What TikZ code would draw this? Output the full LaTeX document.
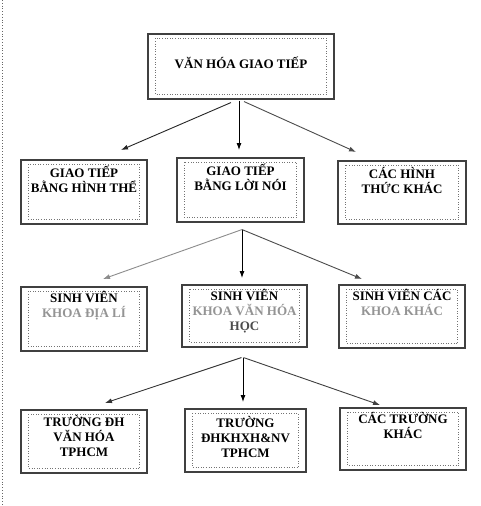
\documentclass[tikz,border=0pt]{standalone}
\usepackage{fontspec}
\setmainfont{Liberation Serif}
\usetikzlibrary{arrows.meta}
\newcommand\inrect[1]{\draw[inbox] ([shift={(8pt,-5pt)}]#1.north west) rectangle ([shift={(-8pt,5pt)}]#1.south east);}
\begin{document}
\begin{tikzpicture}[x=1pt,y=-1pt,
  box/.style={draw=black!75,line width=1.1pt,minimum width=126pt,minimum height=64pt,inner sep=0pt},
  inbox/.style={draw=black!55,dotted,line width=0.6pt},
  txt/.style={anchor=north,align=center,inner sep=0pt,font=\bfseries\fontsize{13}{15}\selectfont},
  arr/.style={line width=0.9pt,-{Latex[length=7pt,width=5pt]}},
  lt/.style={text=black!42},
]
\useasboundingbox (0,0) rectangle (480,506);
\fill[white] (0,0) rectangle (480,506);
\draw[black!60,dotted,line width=0.8pt] (2,0) -- (2,506);

% top
\node[box,minimum width=186pt,minimum height=65pt] (top) at (241,66.5) {};
\inrect{top}
\node[txt,anchor=base] (ttop) at ([yshift=-2pt]top.center) {VĂN HÓA GIAO TIẾP};

% level 2
\node[box] (b21) at (84,192) {};
\node[box,minimum width=127pt] (b22) at (240.5,190) {};
\node[box,minimum width=128pt,minimum height=63pt] (b23) at (402,192.5) {};
\inrect{b21}\inrect{b22}\inrect{b23}
\node[txt] (t21) at ([yshift=-5pt]b21.north) {\rule{0pt}{13pt}GIAO TIẾP\\BẰNG HÌNH THỂ};
\node[txt] (t22) at ([yshift=-5pt]b22.north) {\rule{0pt}{13pt}GIAO TIẾP\\BẰNG LỜI NÓI};
\node[txt] (t23) at ([yshift=-5pt]b23.north) {\rule{0pt}{13pt}CÁC HÌNH\\THỨC KHÁC};

% level 3
\node[box] (b31) at (84,319) {};
\node[box,minimum width=125pt,minimum height=62pt] (b32) at (244.5,316) {};
\node[box,minimum height=63pt] (b33) at (402,316.5) {};
\inrect{b31}\inrect{b32}\inrect{b33}
\node[txt] (t31) at ([yshift=-3pt]b31.north) {\rule{0pt}{13pt}SINH VIÊN\\\textcolor{black!42}{KHOA ĐỊA LÍ}};
\node[txt] (t32) at ([yshift=-3pt]b32.north) {\rule{0pt}{13pt}SINH VIÊN\\\textcolor{black!42}{KHOA VĂN HÓA}\\\textcolor{black!70}{HỌC}};
\node[txt] (t33) at ([yshift=-3pt]b33.north) {\rule{0pt}{13pt}SINH VIÊN CÁC\\\textcolor{black!42}{KHOA KHÁC}};

% level 4
\node[box,minimum height=63pt] (b41) at (84,441.5) {};
\node[box,minimum width=121pt,minimum height=63pt] (b42) at (245.5,440.5) {};
\node[box,minimum height=62pt] (b43) at (403,439) {};
\inrect{b41}\inrect{b42}\inrect{b43}
\node[txt] (t41) at ([yshift=-4pt]b41.north) {\rule{0pt}{13pt}TRƯỜNG ĐH\\VĂN HÓA\\TPHCM};
\node[txt] (t42) at ([yshift=-6pt]b42.north) {\rule{0pt}{13pt}TRƯỜNG\\ĐHKHXH\&NV\\TPHCM};
\node[txt] (t43) at ([yshift=-3pt]b43.north) {\rule{0pt}{13pt}CÁC TRƯỜNG\\KHÁC};

% arrow ends
\coordinate (e11) at (121,150);
\coordinate (e12) at (239,150);
\coordinate (e13) at (356,152);
\coordinate (e21) at (103,279);
\coordinate (e22) at (242,278);
\coordinate (e23) at (362,279);
\coordinate (e31) at (105,403);
\coordinate (e32) at (243,402);
\coordinate (e33) at (380,405);

\draw[arr,black!85] ([xshift=-10pt,yshift=-3pt]top.south) -- (e11);
\draw[arr,black] ([xshift=-2pt,yshift=-1pt]top.south) -- (e12);
\draw[arr,black!70] ([xshift=3pt,yshift=-2pt]top.south) -- (e13);

\draw[arr,black!45] ([xshift=1.5pt,yshift=-7pt]b22.south) -- (e21);
\draw[arr,black] ([xshift=1.5pt,yshift=-7pt]b22.south) -- (e22);
\draw[arr,black!70] ([xshift=1.5pt,yshift=-7pt]b22.south) -- (e23);

\draw[arr,black!80] ([xshift=-3pt,yshift=-10pt]b32.south) -- (e31);
\draw[arr,black] ([xshift=-1.5pt,yshift=-10pt]b32.south) -- (e32);
\draw[arr,black!75] ([xshift=-1pt,yshift=-10pt]b32.south) -- (e33);
\end{tikzpicture}
\end{document}
